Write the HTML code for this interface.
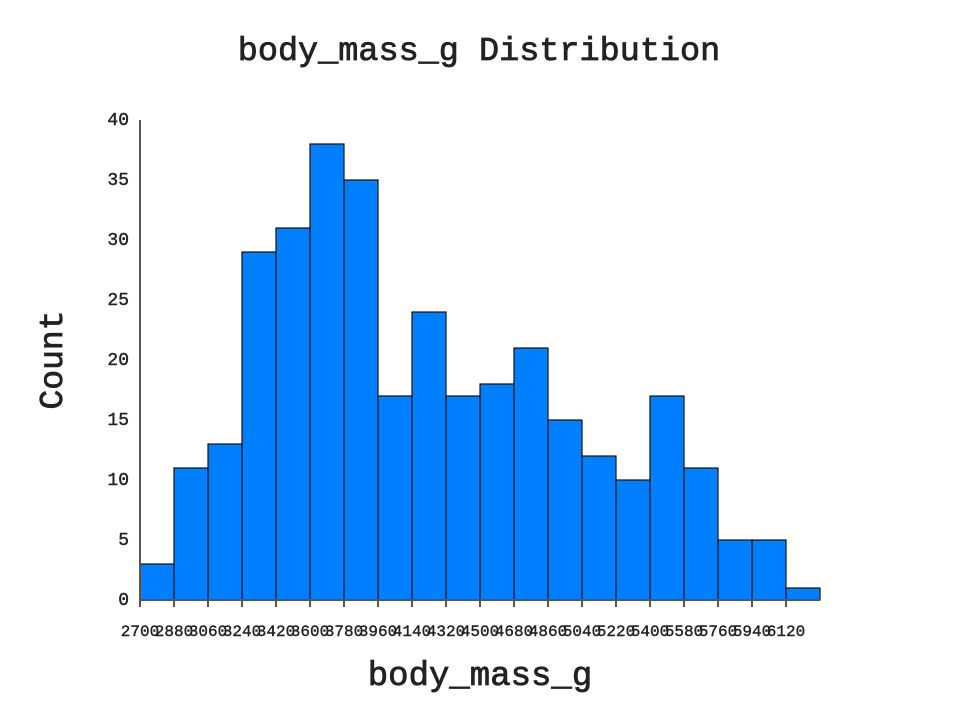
<!DOCTYPE html>
<html><head><meta charset="utf-8"><style>
body{margin:0;background:#fff;}
svg text{font-family:"Liberation Mono","DejaVu Sans Mono",monospace;fill:#222;}
</style></head><body>
<svg width="960" height="720" id="chart">
<text x="479" y="60" text-anchor="middle" font-size="33.5" stroke="#222" stroke-width="0.8">body_mass_g Distribution</text>
<text x="480" y="685" text-anchor="middle" font-size="34" stroke="#222" stroke-width="0.8">body_mass_g</text>
<text transform="translate(62,360) rotate(-90)" text-anchor="middle" font-size="33" stroke="#222" stroke-width="0.8">Count</text>
<g id="bars"></g><g id="axes"></g>
</svg>
<script>
const binStarts=[2700,2880,3060,3240,3420,3600,3780,3960,4140,4320,4500,4680,4860,5040,5220,5400,5580,5760,5940,6120];
const counts=[3,11,13,29,31,38,35,17,24,17,18,21,15,12,10,17,11,5,5,1];
const yTicks=[0,5,10,15,20,25,30,35,40];
const binWidth=180;
const x0=140,x1=820,y0=600,y1=120;
const xMin=2700,xMax=6300,yMax=40;
const X=v=>x0+(v-xMin)/(xMax-xMin)*(x1-x0);
const Y=v=>y0-v/yMax*(y0-y1);
const NS="http://www.w3.org/2000/svg";
const bars=document.getElementById('bars'),axes=document.getElementById('axes');
function mk(tag,attrs,parent){const e=document.createElementNS(NS,tag);for(const k in attrs)e.setAttribute(k,attrs[k]);parent.appendChild(e);return e;}
counts.forEach((c,i)=>{
 const r=mk('rect',{x:X(binStarts[i]),y:Y(c),width:X(binStarts[i]+binWidth)-X(binStarts[i]),height:Y(0)-Y(c),fill:'#0080ff',stroke:'#111','stroke-width':1.2},bars);
 
 
});
const ya=mk('line',{x1:x0,y1:y1,x2:x0,y2:y0,stroke:'#555','stroke-width':2},axes);


const xa=mk('line',{x1:x0,y1:y0,x2:x1,y2:y0,stroke:'#555','stroke-width':2},axes);


yTicks.forEach(v=>{
 const t=mk('text',{x:x0-11,y:Y(v)+5,'text-anchor':'end','font-size':18,stroke:'#222','stroke-width':0.4},axes);
 t.textContent=v;
 
 
});
binStarts.forEach(v=>{
 mk('line',{x1:X(v),y1:y0,x2:X(v),y2:y0+7,stroke:'#555','stroke-width':2},axes);
 const t=mk('text',{x:X(v),y:y0+36,'text-anchor':'middle','font-size':16,stroke:'#222','stroke-width':0.4},axes);
 t.textContent=v;
 
 
});
</script>
</body></html>
